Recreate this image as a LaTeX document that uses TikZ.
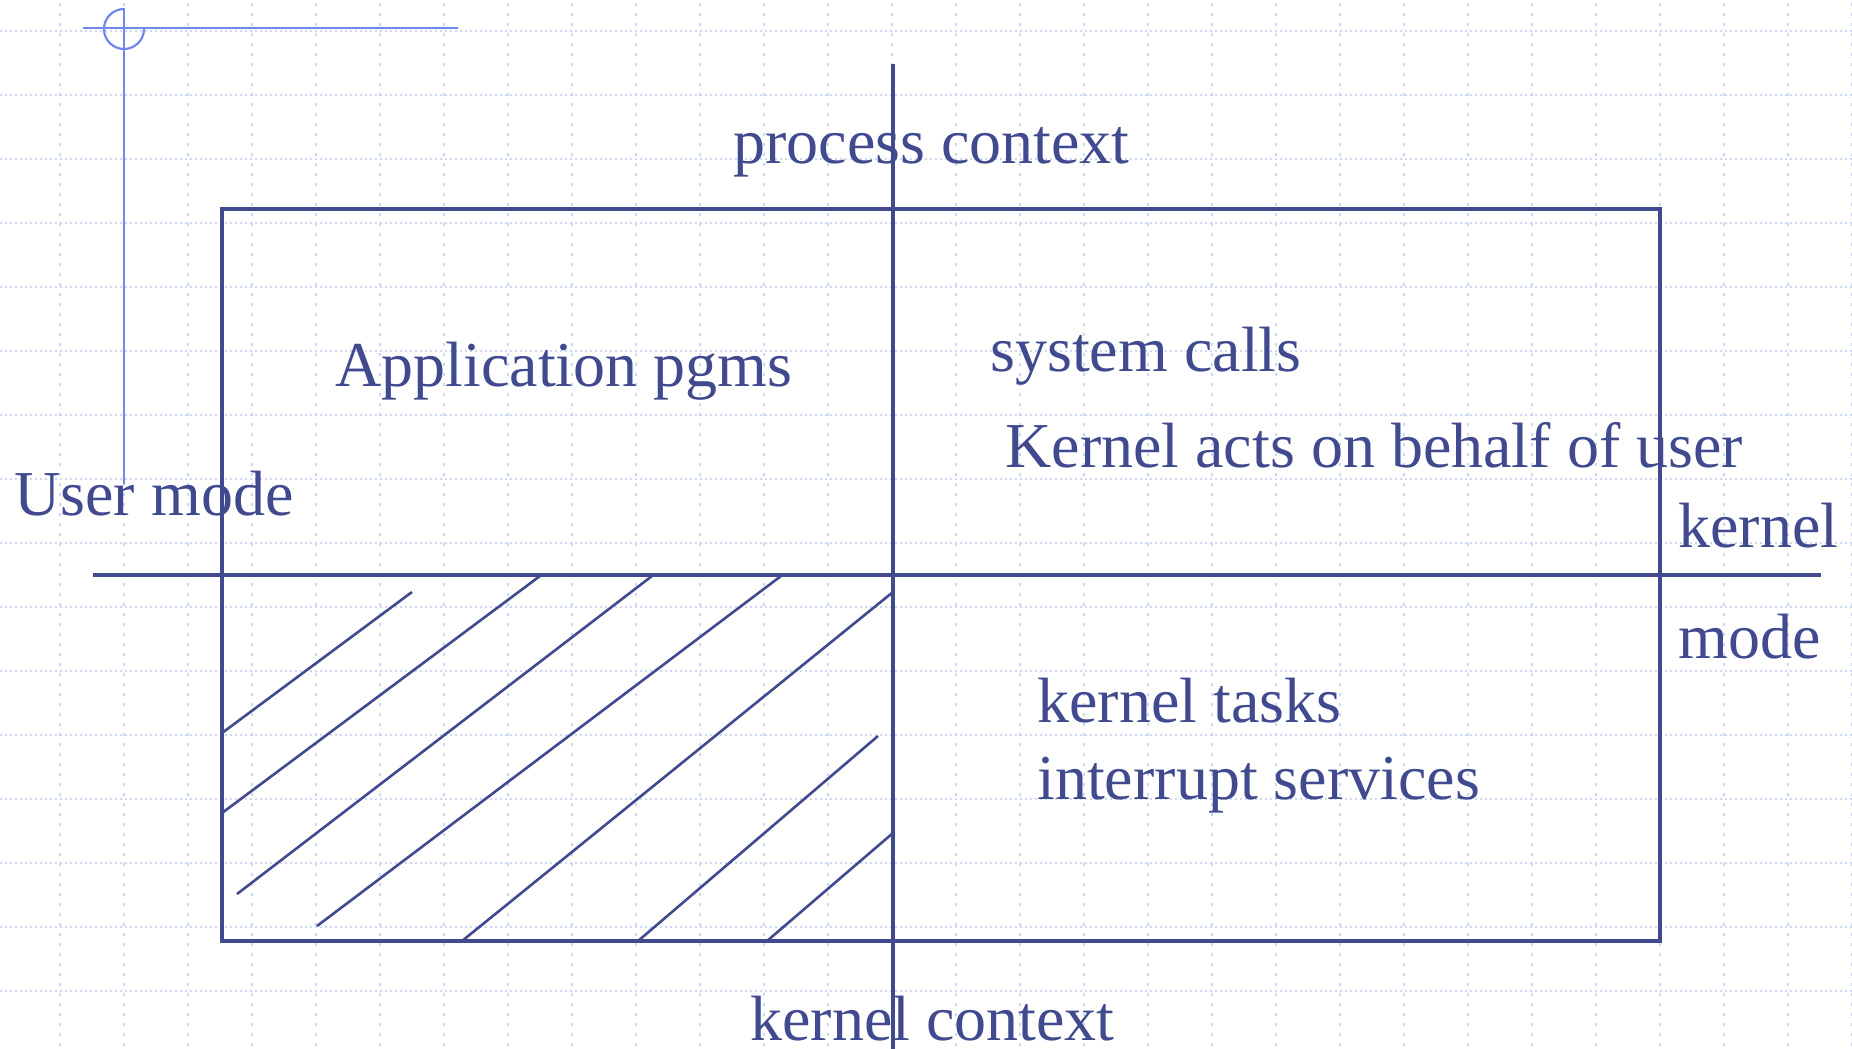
\documentclass[tikz,border=0pt]{standalone}
\usepackage{fontspec}
\setmainfont{Liberation Serif}
\usetikzlibrary{positioning}
\definecolor{ink}{HTML}{414A8F}
\definecolor{guide}{HTML}{6F88EC}
\definecolor{gridblue}{HTML}{CCD7F4}
\tikzset{
  frame/.style={draw=ink,line width=1.6pt},
  hatch/.style={draw=ink,line width=1.3pt},
  lbl/.style={text=ink,anchor=base west,inner sep=0pt,font=\fontsize{32}{38}\selectfont},
  guideline/.style={draw=guide,line width=1.1pt},
  hgrid/.style={draw=gridblue,line width=1pt,dash pattern=on 1.2pt off 1.3pt},
  vgrid/.style={draw=gridblue,line width=1pt,dash pattern=on 1.5pt off 3.5pt}
}

\begin{document}
\begin{tikzpicture}[x=0.5pt,y=-0.5pt]
\useasboundingbox (0,0) rectangle (1852,1049);
\fill[white] (0,0) rectangle (1852,1049);

% dotted background grid
\foreach \gy in {31,95,...,1049}
  \draw[hgrid] (0,\gy) -- (1852,\gy);
\foreach \gx in {60,124,...,1852}
  \draw[vgrid] (\gx,3) -- (\gx,1049);

% guide cross in the corner
\coordinate (gc) at (124,29);
\draw[guideline] (83,28) -- (458,28);
\draw[guideline] (124,8) -- (124,484);
\draw[guideline] (gc) ++(0,-20) arc[start angle=270,end angle=0,radius=20];

% the box and its two axes
\coordinate (nw) at (222,209);
\coordinate (se) at (1660,941);
\coordinate (ctop) at (893,64);
\coordinate (cbot) at (893,1049);
\coordinate (mleft) at (93,575);
\coordinate (mright) at (1821,575);
\draw[frame] (nw) rectangle (se);
\draw[frame] (ctop) -- (cbot);
\draw[frame] (mleft) -- (mright);

% hatching of the lower left quarter
\foreach \ax/\ay/\bx/\by in {222/733/412/592, 222/813/540/576, 237/894/652/576,
    317/926/781/576, 462/941/893/592, 638/941/878/736, 767/941/893/833}
  \draw[hatch] (\ax,\ay) -- (\bx,\by);

% labels
\node[lbl] (pctx) at (733,163) {process context};
\node[lbl] (app) at (335,386) {Application pgms};
\node[lbl] (sys) at (990,371) {system calls};
\node[lbl] (behalf) at (1005,467) {Kernel acts on behalf of user};
\node[lbl] (umode) at (14,515) {User mode};
\node[lbl] (kmode1) at (1678,547) {kernel};
\node[lbl] (kmode2) at (1678,658) {mode};
\node[lbl] (ktask) at (1037,722) {kernel tasks};
\node[lbl] (irq) at (1037,799) {interrupt services};
\node[lbl] (kctx) at (750,1040) {kernel context};
\end{tikzpicture}
\end{document}
